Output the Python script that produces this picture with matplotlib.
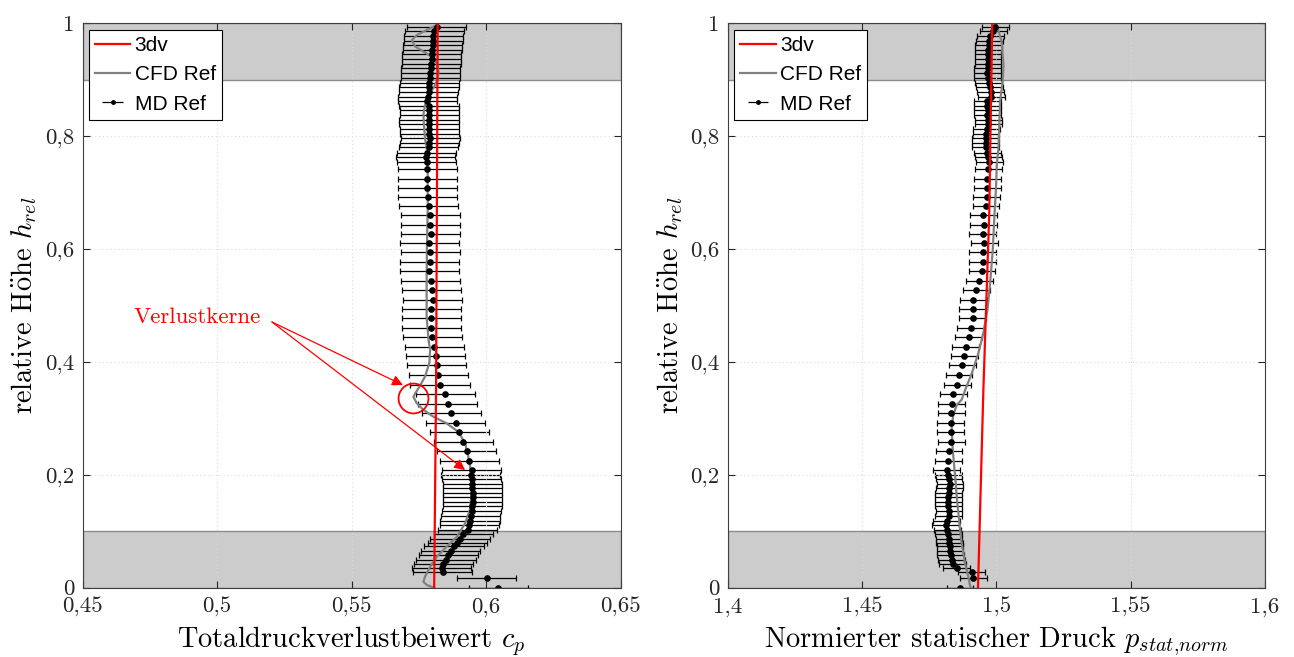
import matplotlib
matplotlib.use("Agg")
import matplotlib.pyplot as plt
from matplotlib.lines import Line2D

plt.rcParams['font.family'] = ['cmr10', 'DejaVu Serif']
plt.rcParams['mathtext.fontset'] = 'cm'
plt.rcParams['axes.unicode_minus'] = False
plt.rcParams['axes.formatter.use_mathtext'] = True

# measurement heights (MD Ref), same grid for both panels
h_md = [0.994, 0.986, 0.978, 0.969, 0.961, 0.953, 0.945, 0.936, 0.928, 0.920,
        0.912, 0.903, 0.895, 0.887, 0.879, 0.870, 0.862, 0.854, 0.846, 0.837,
        0.829, 0.821, 0.813, 0.804, 0.796, 0.788, 0.780, 0.771, 0.763, 0.755,
        0.741, 0.725, 0.708, 0.692, 0.676, 0.660, 0.643, 0.627, 0.610, 0.594,
        0.577, 0.561, 0.544, 0.527, 0.510, 0.494, 0.477, 0.461, 0.444, 0.427,
        0.411, 0.394, 0.377, 0.360, 0.343, 0.326, 0.309, 0.292, 0.275, 0.259,
        0.242, 0.225, 0.2085,
        0.200, 0.192, 0.184, 0.176, 0.168, 0.160, 0.152, 0.144, 0.135, 0.127,
        0.119, 0.111, 0.102, 0.095, 0.087, 0.080, 0.073, 0.065, 0.058, 0.049,
        0.042, 0.034, 0.027,
        0.017, 0.0]

cp_md = [0.5817, 0.5808, 0.5804, 0.5804, 0.5802, 0.5800, 0.5798, 0.5798, 0.5796, 0.5794,
         0.5793, 0.5792, 0.5789, 0.5788, 0.5786, 0.5783, 0.5782, 0.5788, 0.5789, 0.5789,
         0.5788, 0.5788, 0.5789, 0.5789, 0.5792, 0.5789, 0.5786, 0.5779, 0.5776, 0.5779,
         0.5782, 0.5782, 0.5782, 0.5783, 0.5786, 0.5792, 0.5792, 0.5794, 0.5789, 0.5793,
         0.5791, 0.5789, 0.5794, 0.5798, 0.5802, 0.5796, 0.5796, 0.5797, 0.5800, 0.5807,
         0.5812, 0.5817, 0.5823, 0.5829, 0.5848, 0.5858, 0.5870, 0.5887, 0.5900, 0.5916,
         0.5928, 0.5937, 0.5947,
         0.5943, 0.5947, 0.5949, 0.5949, 0.5950, 0.5950, 0.5950, 0.5949, 0.5947, 0.5943,
         0.5940, 0.5938, 0.5931, 0.5916, 0.5903, 0.5893, 0.5881, 0.5869, 0.5860, 0.5851,
         0.5841, 0.5835, 0.5838,
         0.6002, 0.6046]
cp_err = 0.011

p_md = [1.4996, 1.4989, 1.4977, 1.4974, 1.4972, 1.4971, 1.4969, 1.4969, 1.4969, 1.4968,
        1.4967, 1.4968, 1.4972, 1.4976, 1.4979, 1.4981, 1.4967, 1.4967, 1.4968, 1.4967,
        1.4971, 1.4971, 1.4964, 1.4962, 1.4961, 1.4960, 1.4960, 1.4967, 1.4971, 1.4974,
        1.4971, 1.4967, 1.4967, 1.4964, 1.4962, 1.4952, 1.4953, 1.4950, 1.4956, 1.4950,
        1.4950, 1.4947, 1.4937, 1.4925, 1.4915, 1.4912, 1.4912, 1.4905, 1.4897, 1.4887,
        1.4881, 1.4873, 1.4861, 1.4855, 1.4840, 1.4834, 1.4832, 1.4830, 1.4830, 1.4832,
        1.4824, 1.4822, 1.4816,
        1.4822, 1.4824, 1.4828, 1.4825, 1.4823, 1.4822, 1.4822, 1.4822, 1.4824, 1.4823,
        1.4816, 1.4812, 1.4818, 1.4822, 1.4824, 1.4825, 1.4828, 1.4828, 1.4830, 1.4834,
        1.4838, 1.4853, 1.4909,
        1.4915, 1.4865]
p_err = 0.005

# CFD reference
h_cfd_l = [1.0, 0.997, 0.988, 0.979, 0.970, 0.959, 0.950, 0.941, 0.929, 0.914,
           0.900, 0.888, 0.873, 0.855, 0.838, 0.814, 0.796, 0.779, 0.761, 0.737,
           0.708, 0.672, 0.598, 0.539, 0.480, 0.439, 0.421, 0.398, 0.374, 0.356,
           0.344, 0.338, 0.327, 0.315, 0.303, 0.291, 0.276, 0.256, 0.232, 0.2085,
           0.173, 0.138, 0.114, 0.090, 0.073, 0.055, 0.037, 0.0195, 0.0106, 0.005,
           0.0]
cp_cfd = [0.5820, 0.5817, 0.5779, 0.5742, 0.5724, 0.5736, 0.5767, 0.5798, 0.5817, 0.5823,
          0.5819, 0.5807, 0.5789, 0.5773, 0.5767, 0.5770, 0.5773, 0.5779, 0.5782, 0.5783,
          0.5783, 0.5783, 0.5780, 0.5779, 0.5779, 0.5786, 0.5792, 0.5789, 0.5773, 0.5752,
          0.5736, 0.5730, 0.5742, 0.5767, 0.5804, 0.5854, 0.5897, 0.5922, 0.5934, 0.5943,
          0.5947, 0.5940, 0.5922, 0.5891, 0.5854, 0.5817, 0.5792, 0.5773, 0.5767, 0.5779,
          0.5806]

h_cfd_r = [1.0, 0.997, 0.967, 0.926, 0.897, 0.861, 0.826, 0.778, 0.749, 0.708,
           0.658, 0.598, 0.539, 0.492, 0.451, 0.415, 0.380, 0.350, 0.333, 0.324,
           0.306, 0.285, 0.244, 0.197, 0.150, 0.114, 0.079, 0.043, 0.0195, 0.005,
           0.0]
p_cfd = [1.4990, 1.5002, 1.5020, 1.5027, 1.5024, 1.5014, 1.5012, 1.5008, 1.5002, 1.4999,
         1.4993, 1.4987, 1.4977, 1.4967, 1.4952, 1.4933, 1.4909, 1.4884, 1.4871, 1.4853,
         1.4840, 1.4834, 1.4838, 1.4847, 1.4855, 1.4863, 1.4871, 1.4884, 1.4896, 1.4902,
         1.4905]

# 3dv simulation
h_3dv = [1.0, 0.665, 0.35, 0.0]
cp_3dv = [0.5820, 0.5817, 0.5814, 0.5807]
p_3dv = [1.4985, 1.4974, 1.4952, 1.4932]

y_ticks = [0, 0.2, 0.4, 0.6, 0.8, 1.0]
y_ticklabels = ['0', '0,2', '0,4', '0,6', '0,8', '1']
cp_ticks = [0.45, 0.5, 0.55, 0.6, 0.65]
cp_ticklabels = ['0,45', '0,5', '0,55', '0,6', '0,65']
p_ticks = [1.4, 1.45, 1.5, 1.55, 1.6]
p_ticklabels = ['1,4', '1,45', '1,5', '1,55', '1,6']


def draw_panel(ax, x_md, x_err, x_cfd, h_cfd, x_3dv, xlim, xticks, xticklabels, xlabel):
    ax.set_xlim(xlim)
    ax.set_ylim(0, 1)
    # gray wall regions
    for y0, y1 in [(0.0, 0.1), (0.9, 1.0)]:
        ax.axhspan(y0, y1, facecolor='0.8', edgecolor='0.55', lw=1.0, zorder=0.5)
    ax.grid(True, linestyle=(0, (1, 2.5)), color='0.86', lw=0.8, zorder=0.6)
    ax.set_axisbelow(False)

    # error bars below the CFD line, markers above it
    ax.errorbar(x_md, h_md, xerr=x_err, fmt='none', ecolor='black',
                elinewidth=0.9, capsize=2.2, capthick=0.9, zorder=2)
    ax.plot(x_cfd, h_cfd, color='0.5', lw=1.6, zorder=3)
    ax.plot(x_md, h_md, 'o', color='black', ms=3.8, zorder=4)
    ax.plot(x_3dv, h_3dv, color='red', lw=1.6, zorder=5)

    ax.set_xticks(xticks)
    ax.set_xticklabels(xticklabels)
    ax.set_yticks(y_ticks)
    ax.set_yticklabels(y_ticklabels)
    ax.tick_params(direction='in', top=True, right=True, length=5, width=0.8,
                   labelsize=16.5, colors='0.15', pad=6)
    ax.tick_params(axis='x', pad=7)
    for s in ax.spines.values():
        s.set_color('0.25')
        s.set_linewidth(0.8)
        s.set_zorder(6)
    ax.set_xlabel(xlabel, fontsize=20.5, labelpad=5)
    ax.set_ylabel(r'relative H$\mathrm{\ddot{o}}$he $h_{rel}$', fontsize=20.5, labelpad=4)

    handles = [Line2D([], [], color='red', lw=1.6),
               Line2D([], [], color='0.5', lw=1.6),
               ax.errorbar([], [], xerr=[], fmt='o', color='black', ms=2.5,
                           elinewidth=0.9, capsize=2.2)]
    leg = ax.legend(handles, ['3dv', 'CFD Ref', 'MD Ref'], loc='upper left',
                    prop={'family': 'Liberation Sans', 'size': 15},
                    fancybox=False, framealpha=1, edgecolor='black',
                    borderpad=0.3, labelspacing=0.5, handlelength=1.7,
                    handletextpad=0.2, borderaxespad=0.3)
    leg.get_frame().set_linewidth(0.8)
    leg.set_zorder(10)


fig = plt.figure(figsize=(12.94, 6.57), dpi=100)
ax1 = fig.add_axes([0.0638, 0.1055, 0.4158, 0.859])
ax2 = fig.add_axes([0.5624, 0.1055, 0.4150, 0.859])

draw_panel(ax1, cp_md, cp_err, cp_cfd, h_cfd_l, cp_3dv, (0.45, 0.65),
           cp_ticks, cp_ticklabels, r'Totaldruckverlustbeiwert $c_p$')
draw_panel(ax2, p_md, p_err, p_cfd, h_cfd_r, p_3dv, (1.4, 1.6),
           p_ticks, p_ticklabels, r'Normierter statischer Druck $p_{stat{,}norm}$')

# annotation of the loss cores
ax1.text(0.4926, 0.4796, 'Verlustkerne', color='red', fontsize=16.5,
         ha='center', va='center', zorder=7)
arrow_start = (0.5204, 0.4708)
for tip in [(0.5691, 0.359), (0.5922, 0.2085)]:
    ax1.annotate('', xy=tip, xytext=arrow_start,
                 arrowprops=dict(arrowstyle='-|>', color='red', lw=0.9,
                                 mutation_scale=16, shrinkA=0, shrinkB=0),
                 zorder=7)
ax1.plot([0.5729], [0.336], marker='o', ms=21.5, mfc='none', mec='red',
         mew=1.3, zorder=7)

fig.savefig('out.png', dpi=100)
